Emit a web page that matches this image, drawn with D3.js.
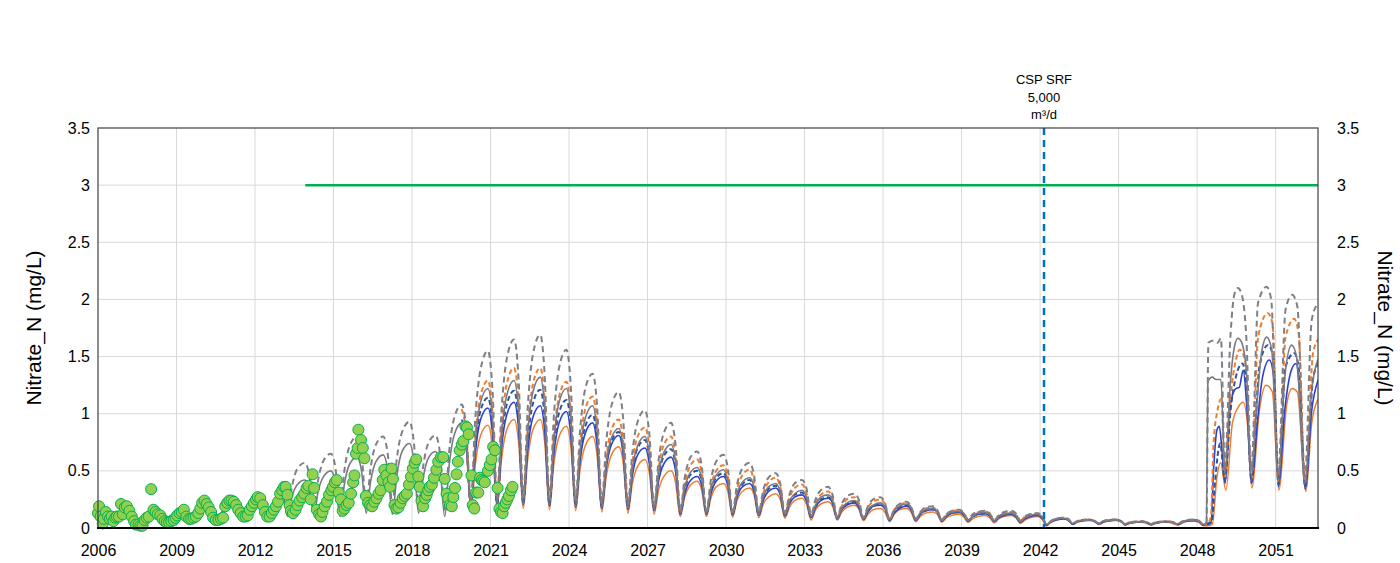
<!DOCTYPE html>
<html>
<head>
<meta charset="utf-8">
<script src="https://cdn.jsdelivr.net/npm/d3@7"></script>
<style>
  html, body { margin: 0; padding: 0; background: #ffffff; }
  svg { display: block; font-family: "Liberation Sans", Arial, sans-serif; }
</style>
</head>
<body>
<svg id="chart" width="1400" height="563"></svg>
<script>
// ---- Axis ticks and reference values ----
const yTicks = [0, 0.5, 1, 1.5, 2, 2.5, 3, 3.5];
const yTickLabels = ["0", "0.5", "1", "1.5", "2", "2.5", "3", "3.5"];
const xTicks = [2006, 2009, 2012, 2015, 2018, 2021, 2024, 2027, 2030, 2033, 2036, 2039, 2042, 2045, 2048, 2051];
const yTitle = "Nitrate_N (mg/L)";
const limitValue = 3;
const limitStart = 2013.92;
const cspYear = 2042.15;
const cspLabel = ["CSP SRF", "5,000", "m³/d"];

// ---- Observed nitrate samples [decimal year, mg/L] ----
const observed = [
  [2006.00,.13],[2006.04,.19],[2006.10,.10],[2006.18,.04],[2006.22,.08],[2006.30,.14],[2006.38,.10],[2006.45,.08],
  [2006.52,.10],[2006.59,.06],[2006.66,.09],[2006.72,.10],[2006.80,.10],[2006.88,.21],[2006.95,.12],[2007.02,.18],
  [2007.10,.19],[2007.20,.15],[2007.29,.10],[2007.38,.06],[2007.45,.03],[2007.55,.03],[2007.62,.02],[2007.70,.02],
  [2007.78,.07],[2007.86,.09],[2007.94,.10],[2008.03,.34],[2008.12,.16],[2008.20,.14],[2008.28,.12],[2008.38,.11],
  [2008.46,.08],[2008.55,.06],[2008.63,.05],[2008.72,.05],[2008.80,.06],[2008.89,.07],[2008.96,.09],[2009.03,.11],
  [2009.12,.13],[2009.20,.14],[2009.28,.16],[2009.38,.10],[2009.48,.08],[2009.56,.08],[2009.65,.09],[2009.74,.10],
  [2009.83,.13],[2009.91,.17],[2009.98,.22],[2010.07,.24],[2010.15,.21],[2010.23,.18],[2010.32,.14],[2010.40,.09],
  [2010.50,.07],[2010.60,.07],[2010.70,.08],[2010.78,.09],[2010.86,.19],[2010.94,.22],[2011.02,.24],[2011.10,.24],
  [2011.19,.23],[2011.28,.20],[2011.36,.16],[2011.45,.13],[2011.55,.10],[2011.64,.10],[2011.72,.11],[2011.80,.16],
  [2011.88,.19],[2011.96,.22],[2012.04,.25],[2012.10,.27],[2012.20,.26],[2012.30,.20],[2012.38,.14],[2012.47,.10],
  [2012.56,.10],[2012.64,.13],[2012.72,.16],[2012.80,.19],[2012.88,.23],[2012.96,.30],[2013.04,.33],[2013.11,.36],
  [2013.17,.36],[2013.24,.29],[2013.32,.20],[2013.37,.15],[2013.45,.13],[2013.55,.16],[2013.62,.20],[2013.70,.24],
  [2013.80,.27],[2013.88,.30],[2013.97,.35],[2014.04,.37],[2014.13,.25],[2014.20,.47],[2014.26,.35],[2014.36,.16],
  [2014.45,.12],[2014.52,.10],[2014.58,.14],[2014.66,.19],[2014.75,.23],[2014.83,.29],[2014.92,.33],[2014.98,.36],
  [2015.05,.40],[2015.12,.42],[2015.20,.31],[2015.28,.25],[2015.35,.15],[2015.42,.17],[2015.50,.20],[2015.58,.22],
  [2015.67,.30],[2015.75,.40],[2015.80,.46],[2015.86,.65],[2015.92,.70],[2015.95,.86],[2016.05,.77],[2016.12,.70],
  [2016.18,.61],[2016.24,.28],[2016.32,.22],[2016.40,.20],[2016.48,.19],[2016.56,.23],[2016.64,.26],[2016.72,.30],
  [2016.80,.33],[2016.88,.42],[2016.94,.51],[2017.02,.46],[2017.10,.40],[2017.16,.36],[2017.22,.52],[2017.27,.43],
  [2017.33,.20],[2017.40,.17],[2017.48,.18],[2017.56,.22],[2017.64,.26],[2017.72,.28],[2017.80,.30],[2017.88,.38],
  [2017.96,.45],[2018.03,.52],[2018.10,.57],[2018.16,.60],[2018.24,.45],[2018.29,.36],[2018.36,.24],[2018.42,.19],
  [2018.50,.26],[2018.56,.29],[2018.62,.33],[2018.68,.36],[2018.76,.38],[2018.84,.44],[2018.93,.51],[2019.00,.58],
  [2019.10,.62],[2019.19,.62],[2019.25,.43],[2019.32,.30],[2019.38,.26],[2019.45,.20],[2019.52,.19],[2019.58,.27],
  [2019.64,.35],[2019.70,.47],[2019.75,.58],[2019.82,.68],[2019.90,.73],[2019.96,.76],[2020.04,.89],[2020.10,.88],
  [2020.16,.82],[2020.27,.46],[2020.32,.20],[2020.38,.17],[2020.45,.31],[2020.53,.31],[2020.60,.44],[2020.66,.42],
  [2020.72,.41],[2020.78,.40],[2020.90,.50],[2020.97,.55],[2021.04,.60],[2021.10,.71],[2021.17,.68],[2021.27,.35],
  [2021.34,.17],[2021.40,.14],[2021.46,.13],[2021.52,.19],[2021.58,.22],[2021.64,.25],[2021.70,.28],[2021.78,.33],
  [2021.84,.36]
];

// ---- Simulated history (base model), [decimal year, mg/L] ----
const grayHistory = [
  [2008.45,.05],[2008.97,.12],[2009.15,.12],[2009.40,.07],[2009.70,.10],[2009.97,.17],[2010.15,.16],[2010.40,.07],
  [2010.70,.13],[2010.97,.21],[2011.15,.19],[2011.40,.08],[2011.70,.15],[2011.97,.24],[2012.15,.22],[2012.40,.09],
  [2012.70,.20],[2012.97,.32],[2013.10,.26],[2013.25,.10],[2013.42,.28],[2013.62,.38],[2013.90,.42],[2014.07,.35],
  [2014.25,.12],[2014.42,.33],[2014.62,.45],[2014.90,.50],[2015.07,.40],[2015.25,.10],[2015.42,.39],[2015.62,.56],
  [2015.90,.62],[2016.07,.50],[2016.25,.13],[2016.42,.41],[2016.62,.58],[2016.90,.64],[2017.07,.51],[2017.25,.12],
  [2017.42,.46],[2017.62,.67],[2017.90,.74],[2018.07,.59],[2018.25,.13],[2018.42,.43],[2018.62,.61],[2018.90,.67],
  [2019.07,.53],[2019.25,.10],[2019.42,.55],[2019.62,.82]
];
const grayDashedHistory = [
  [2013.25,.12],[2013.42,.37],[2013.62,.52],[2013.90,.57],[2014.07,.47],[2014.25,.17],[2014.42,.43],[2014.62,.59],
  [2014.90,.65],[2015.07,.53],[2015.25,.15],[2015.42,.51],[2015.62,.72],[2015.90,.80],[2016.07,.65],[2016.25,.20],
  [2016.42,.53],[2016.62,.73],[2016.90,.80],[2017.07,.65],[2017.25,.21],[2017.42,.61],[2017.62,.84],[2017.90,.93],
  [2018.07,.75],[2018.25,.19],[2018.42,.53],[2018.62,.74],[2018.90,.81],[2019.07,.65],[2019.25,.16],[2019.42,.67],
  [2019.62,.97]
];

// ---- Predictive runs 2020-2048: shared sample times (peak, falling, trough, rising, shoulder per year) ----
const cycleTimes = [
  2019.9,2020.07,2020.25,2020.42,2020.62, 2020.9,2021.07,2021.25,2021.42,2021.62,
  2021.9,2022.07,2022.25,2022.42,2022.62, 2022.9,2023.07,2023.25,2023.42,2023.62,
  2023.9,2024.07,2024.25,2024.42,2024.62, 2024.9,2025.07,2025.25,2025.42,2025.62,
  2025.9,2026.07,2026.25,2026.42,2026.62, 2026.9,2027.07,2027.25,2027.42,2027.62,
  2027.9,2028.07,2028.25,2028.42,2028.62, 2028.9,2029.07,2029.25,2029.42,2029.62,
  2029.9,2030.07,2030.25,2030.42,2030.62, 2030.9,2031.07,2031.25,2031.42,2031.62,
  2031.9,2032.07,2032.25,2032.42,2032.62, 2032.9,2033.07,2033.25,2033.42,2033.62,
  2033.9,2034.07,2034.25,2034.42,2034.62, 2034.9,2035.07,2035.25,2035.42,2035.62,
  2035.9,2036.07,2036.25,2036.42,2036.62, 2036.9,2037.07,2037.25,2037.42,2037.62,
  2037.9,2038.07,2038.25,2038.42,2038.62, 2038.9,2039.07,2039.25,2039.42,2039.62,
  2039.9,2040.07,2040.25,2040.42,2040.62, 2040.9,2041.07,2041.25,2041.42,2041.62,
  2041.9,2042.07,2042.25,2042.42,2042.62, 2042.9,2043.07,2043.25,2043.42,2043.62,
  2043.9,2044.07,2044.25,2044.42,2044.62, 2044.9,2045.07,2045.25,2045.42,2045.62,
  2045.9,2046.07,2046.25,2046.42,2046.62, 2046.9,2047.07,2047.25,2047.42,2047.62,
  2047.9,2048.07,2048.25
];

const grayDashedRun = [
  1.08,.87,.25,.97,1.39, 1.55,1.23,.27,1.03,1.48, 1.65,1.31,.27,1.05,1.52, 1.69,1.33,.26,.98,1.40,
  1.56,1.23,.24,.85,1.22, 1.35,1.07,.22,.75,1.07, 1.19,.95,.21,.66,.93, 1.03,.82,.19,.59,.83,
  .92,.73,.16,.44,.61, .67,.54,.15,.42,.58, .64,.52,.145,.38,.52, .57,.46,.14,.33,.44,
  .48,.39,.135,.29,.39, .42,.35,.12,.25,.33, .36,.29,.095,.21,.28, .30,.25,.09,.19,.25,
  .27,.22,.08,.16,.21, .23,.19,.08,.14,.18, .19,.16,.075,.12,.15, .16,.14,.075,.12,.14,
  .15,.13,.07,.11,.14, .15,.13,.065,.10,.12, .13,.11,.03,.06,.08, .09,.08,.04,.06,.07,
  .075,.065,.04,.06,.07, .075,.065,.035,.05,.055, .06,.05,.035,.05,.055, .06,.05,.035,.055,.07,
  .075,.065,.03
];
const orangeDashedRun = [
  1.04,.83,.21,.80,1.16, 1.29,1.03,.23,.87,1.26, 1.40,1.11,.23,.87,1.26, 1.40,1.11,.22,.80,1.15,
  1.28,1.01,.21,.73,1.04, 1.15,.91,.20,.61,.86, .95,.76,.19,.57,.80, .88,.71,.18,.52,.73,
  .80,.63,.135,.39,.54, .60,.48,.135,.36,.50, .55,.45,.13,.34,.46, .51,.41,.125,.30,.40,
  .44,.36,.12,.26,.35, .38,.31,.105,.22,.29, .32,.26,.09,.19,.25, .27,.22,.085,.18,.23,
  .25,.21,.075,.16,.20, .22,.18,.075,.13,.17, .18,.15,.07,.12,.15, .155,.13,.07,.11,.14,
  .145,.13,.065,.11,.13, .14,.12,.06,.10,.12, .125,.10,.03,.06,.08, .09,.08,.04,.06,.07,
  .075,.065,.04,.06,.07, .075,.065,.035,.05,.055, .06,.05,.035,.05,.055, .06,.05,.035,.055,.065,
  .07,.06,.03
];
const grayRun = [
  .92,.74,.19,.76,1.10, 1.22,.97,.21,.80,1.16, 1.29,1.02,.21,.82,1.19, 1.32,1.04,.20,.76,1.10,
  1.22,.96,.19,.67,.96, 1.07,.85,.18,.56,.79, .87,.70,.17,.52,.72, .80,.64,.16,.47,.66,
  .73,.58,.13,.35,.48, .53,.43,.13,.34,.46, .51,.41,.125,.30,.40, .44,.36,.12,.27,.36,
  .39,.32,.115,.23,.30, .33,.27,.10,.20,.27, .29,.24,.085,.17,.22, .24,.20,.08,.16,.20,
  .22,.18,.07,.15,.19, .21,.18,.07,.13,.16, .17,.14,.065,.11,.14, .145,.13,.065,.10,.13,
  .135,.12,.06,.10,.12, .13,.11,.055,.09,.11, .12,.10,.03,.06,.08, .085,.07,.04,.06,.065,
  .07,.06,.04,.06,.065, .07,.06,.035,.045,.05, .055,.05,.035,.045,.05, .055,.05,.035,.055,.065,
  .07,.06,.03
];
const blueDashedRun = [
  .93,.75,.19,.71,1.03, 1.14,.91,.21,.75,1.08, 1.20,.95,.21,.76,1.09, 1.21,.96,.20,.71,1.01,
  1.12,.89,.19,.63,.89, .99,.79,.18,.54,.76, .84,.67,.17,.50,.70, .77,.62,.16,.45,.63,
  .69,.55,.125,.33,.46, .50,.41,.125,.32,.44, .48,.39,.12,.29,.38, .42,.34,.115,.26,.34,
  .37,.31,.11,.22,.29, .31,.26,.095,.19,.25, .27,.22,.085,.17,.21, .23,.19,.08,.15,.19,
  .21,.18,.07,.14,.18, .20,.17,.07,.12,.15, .165,.14,.065,.11,.13, .14,.12,.065,.10,.12,
  .13,.11,.06,.10,.12, .125,.11,.055,.09,.11, .115,.09,.025,.06,.08, .085,.07,.035,.055,.065,
  .07,.06,.035,.055,.065, .07,.06,.03,.045,.05, .055,.05,.03,.045,.05, .055,.05,.03,.05,.065,
  .07,.06,.025
];
const blueRun = [
  .95,.76,.18,.66,.95, 1.05,.84,.20,.70,.99, 1.10,.88,.20,.68,.97, 1.07,.85,.19,.65,.92,
  1.02,.81,.18,.59,.83, .92,.73,.17,.52,.73, .81,.65,.16,.46,.64, .70,.56,.15,.41,.56,
  .62,.50,.12,.30,.41, .45,.37,.12,.30,.41, .45,.37,.115,.27,.36, .39,.32,.11,.24,.32,
  .35,.29,.105,.21,.27, .29,.24,.09,.18,.24, .26,.22,.08,.16,.20, .22,.18,.075,.14,.19,
  .20,.17,.065,.13,.17, .19,.16,.065,.12,.15, .16,.14,.06,.10,.13, .135,.12,.06,.10,.12,
  .125,.11,.055,.09,.11, .12,.10,.05,.08,.10, .11,.09,.025,.055,.07, .08,.07,.035,.055,.065,
  .07,.06,.035,.055,.065, .07,.06,.03,.045,.05, .055,.05,.03,.045,.05, .055,.05,.03,.05,.06,
  .065,.055,.025
];
const orangeRun = [
  .90,.71,.15,.56,.81, .90,.72,.17,.60,.86, .95,.76,.17,.60,.86, .95,.75,.16,.56,.80,
  .89,.71,.15,.51,.72, .80,.64,.14,.45,.64, .71,.57,.13,.39,.54, .60,.48,.12,.33,.45,
  .50,.40,.10,.27,.37, .41,.33,.10,.26,.36, .39,.32,.095,.24,.32, .35,.29,.09,.21,.27,
  .30,.25,.085,.18,.24, .26,.21,.07,.16,.21, .23,.19,.07,.14,.18, .20,.17,.065,.12,.16,
  .17,.14,.055,.12,.16, .17,.14,.055,.10,.13, .14,.12,.05,.09,.11, .12,.10,.05,.08,.10,
  .11,.09,.045,.08,.10, .11,.09,.04,.07,.09, .10,.08,.02,.05,.07, .08,.07,.03,.05,.06,
  .065,.06,.03,.05,.06, .065,.06,.025,.04,.05, .05,.04,.025,.04,.05, .05,.04,.025,.04,.06,
  .06,.05,.02
];

// ---- Predictive runs after 2048 [decimal year, mg/L] ----
const grayDashedTail = [
  [2048.36,.05],[2048.43,1.62],[2048.63,1.64],[2048.78,1.62],[2048.91,1.66],[2049.06,.51],[2049.28,1.70],[2049.43,2.05],
  [2049.56,2.10],[2049.73,2.02],[2049.88,1.67],[2050.07,.50],[2050.33,1.97],[2050.66,2.11],[2050.83,2.00],[2051.10,.48],
  [2051.38,1.91],[2051.63,2.04],[2051.83,1.94],[2052.12,.45],[2052.38,1.82],[2052.63,1.97]
];
const orangeDashedTail = [
  [2048.40,.04],[2048.53,.10],[2048.63,.74],[2048.78,1.03],[2048.93,1.13],[2049.06,.45],[2049.28,1.15],[2049.48,1.47],
  [2049.63,1.56],[2049.83,1.47],[2050.08,.42],[2050.33,1.67],[2050.70,1.88],[2050.88,1.79],[2051.11,.40],[2051.38,1.67],
  [2051.71,1.83],[2051.88,1.70],[2052.13,.38],[2052.43,1.53],[2052.63,1.65]
];
const grayTail = [
  [2048.36,.05],[2048.41,1.28],[2048.58,1.32],[2048.73,1.30],[2048.91,1.30],[2049.06,.48],[2049.28,1.30],[2049.43,1.59],
  [2049.56,1.66],[2049.69,1.63],[2049.88,1.38],[2050.07,.45],[2050.26,1.00],[2050.46,1.53],[2050.66,1.67],[2050.85,1.56],
  [2051.10,.42],[2051.35,1.32],[2051.61,1.60],[2051.80,1.50],[2052.12,.39],[2052.38,1.21],[2052.63,1.48]
];
const blueDashedTail = [
  [2048.40,.04],[2048.56,.05],[2048.68,.39],[2048.88,.74],[2049.06,.42],[2049.28,1.03],[2049.48,1.32],[2049.73,1.44],
  [2049.88,1.27],[2050.08,.40],[2050.38,1.41],[2050.70,1.60],[2050.91,1.50],[2051.11,.38],[2051.38,1.41],[2051.71,1.53],
  [2051.88,1.41],[2052.13,.36],[2052.43,1.30],[2052.63,1.44]
];
const blueTail = [
  [2048.40,.03],[2048.53,.04],[2048.63,.51],[2048.76,.86],[2048.85,.89],[2048.95,.68],[2049.07,.39],[2049.28,1.09],
  [2049.48,1.22],[2049.61,1.23],[2049.76,1.38],[2049.91,1.03],[2050.08,.39],[2050.31,.94],[2050.50,1.32],[2050.76,1.47],
  [2050.93,1.32],[2051.11,.36],[2051.35,1.03],[2051.60,1.38],[2051.78,1.44],[2051.95,1.09],[2052.13,.34],[2052.38,1.03],
  [2052.63,1.30]
];
const orangeTail = [
  [2048.40,.02],[2048.58,.03],[2048.76,.45],[2048.90,.57],[2049.10,.33],[2049.35,.92],[2049.58,1.06],[2049.76,1.10],
  [2049.93,.90],[2050.09,.35],[2050.38,1.03],[2050.63,1.25],[2050.88,1.19],[2051.12,.33],[2051.43,1.09],[2051.63,1.22],
  [2051.83,1.19],[2052.16,.32],[2052.38,.92],[2052.63,1.13]
];

// ---- Layout ----
const W = 1400, H = 563;
const plot = { left: 98, right: 1318, top: 128, bottom: 528 };

const svg = d3.select("#chart");
const x = d3.scaleLinear().domain([2006, 2052.62]).range([plot.left, plot.right]);
const y = d3.scaleLinear().domain([0, 3.5]).range([plot.bottom, plot.top]);

const pairs = arr => arr.map(([t, v]) => ({ t, v }));
const sampled = (times, vals) => times.map((t, i) => ({ t, v: vals[i] }));

// gridlines
svg.append("g").selectAll("line.h")
  .data(yTicks.filter(d => d > 0 && d < 3.5))
  .join("line")
  .attr("x1", plot.left).attr("x2", plot.right)
  .attr("y1", d => y(d)).attr("y2", d => y(d))
  .attr("stroke", "#d9d9d9").attr("stroke-width", 1);
svg.append("g").selectAll("line.v")
  .data(xTicks.filter(d => d > 2006))
  .join("line")
  .attr("x1", d => x(d)).attr("x2", d => x(d))
  .attr("y1", plot.top).attr("y2", plot.bottom)
  .attr("stroke", "#d9d9d9").attr("stroke-width", 1);

// clip for series
svg.append("clipPath").attr("id", "plotClip")
  .append("rect")
  .attr("x", plot.left).attr("y", plot.top)
  .attr("width", plot.right - plot.left).attr("height", plot.bottom - plot.top);

const line = d3.line()
  .x(d => x(d.t))
  .y(d => y(d.v))
  .curve(d3.curveMonotoneX);

const series = [
  { data: [...sampled(cycleTimes, orangeRun), ...pairs(orangeTail)], color: "#ED7D31", dash: null, w: 1.5 },
  { data: [...sampled(cycleTimes, blueRun), ...pairs(blueTail)], color: "#2E3FD0", dash: null, w: 1.6 },
  { data: [...sampled(cycleTimes, orangeDashedRun), ...pairs(orangeDashedTail)], color: "#ED7D31", dash: "5,3", w: 2 },
  { data: [...sampled(cycleTimes, blueDashedRun), ...pairs(blueDashedTail)], color: "#2F5597", dash: "5,3", w: 2 },
  { data: [...pairs(grayHistory), ...sampled(cycleTimes, grayRun), ...pairs(grayTail)], color: "#7a7984", dash: null, w: 1.6 },
  { data: [...pairs(grayDashedHistory), ...sampled(cycleTimes, grayDashedRun), ...pairs(grayDashedTail)], color: "#7f7f86", dash: "6,4", w: 2 }
];

const gSeries = svg.append("g").attr("clip-path", "url(#plotClip)");
series.forEach(s => {
  gSeries.append("path")
    .datum(s.data)
    .attr("d", line)
    .attr("fill", "none")
    .attr("stroke", s.color)
    .attr("stroke-width", s.w)
    .attr("stroke-dasharray", s.dash)
    .attr("stroke-linejoin", "round");
});

// observed samples
svg.append("g").selectAll("circle")
  .data(pairs(observed))
  .join("circle")
  .attr("cx", d => x(d.t))
  .attr("cy", d => y(d.v))
  .attr("r", 5.5)
  .attr("fill", "#92D050")
  .attr("stroke", "#00B050")
  .attr("stroke-width", 1);

// limit line
svg.append("line")
  .attr("x1", x(limitStart)).attr("x2", plot.right)
  .attr("y1", y(limitValue)).attr("y2", y(limitValue))
  .attr("stroke", "#00B050").attr("stroke-width", 2.5);

// CSP marker line and label
svg.append("line")
  .attr("x1", x(cspYear)).attr("x2", x(cspYear))
  .attr("y1", plot.top).attr("y2", plot.bottom)
  .attr("stroke", "#0070C0").attr("stroke-width", 2.5)
  .attr("stroke-dasharray", "7,5");
svg.append("g").selectAll("text")
  .data(cspLabel)
  .join("text")
  .attr("x", x(cspYear))
  .attr("y", (d, i) => 84 + i * 17.5)
  .attr("text-anchor", "middle")
  .attr("font-size", 13)
  .attr("fill", "#000")
  .text(d => d);

// frame
svg.append("rect")
  .attr("x", plot.left).attr("y", plot.top)
  .attr("width", plot.right - plot.left).attr("height", plot.bottom - plot.top)
  .attr("fill", "none").attr("stroke", "#404040").attr("stroke-width", 1.2);
svg.append("line")
  .attr("x1", plot.left - 1).attr("x2", plot.right + 1)
  .attr("y1", plot.bottom).attr("y2", plot.bottom)
  .attr("stroke", "#000").attr("stroke-width", 2);

// axes
const fmtY = (d, i) => yTickLabels[i];
const leftAxis = svg.append("g")
  .attr("transform", `translate(${plot.left},0)`)
  .call(d3.axisLeft(y).tickValues(yTicks).tickFormat(fmtY).tickSize(0).tickPadding(8));
const rightAxis = svg.append("g")
  .attr("transform", `translate(${plot.right},0)`)
  .call(d3.axisRight(y).tickValues(yTicks).tickFormat(fmtY).tickSize(0).tickPadding(19));
const bottomAxis = svg.append("g")
  .attr("transform", `translate(0,${plot.bottom})`)
  .call(d3.axisBottom(x).tickValues(xTicks).tickFormat(d3.format("d")).tickSize(0).tickPadding(17));
[leftAxis, rightAxis, bottomAxis].forEach(g => {
  g.select(".domain").remove();
  g.selectAll("text")
    .attr("font-family", "\"Liberation Sans\", Arial, sans-serif")
    .attr("font-size", 16)
    .attr("fill", "#000");
});

// axis titles
svg.append("text")
  .attr("transform", `translate(41,${(plot.top + plot.bottom) / 2}) rotate(-90)`)
  .attr("text-anchor", "middle")
  .attr("font-size", 21)
  .attr("fill", "#000")
  .text(yTitle);
svg.append("text")
  .attr("transform", `translate(1378,${(plot.top + plot.bottom) / 2}) rotate(90)`)
  .attr("text-anchor", "middle")
  .attr("font-size", 21)
  .attr("fill", "#000")
  .text(yTitle);
</script>
</body>
</html>
